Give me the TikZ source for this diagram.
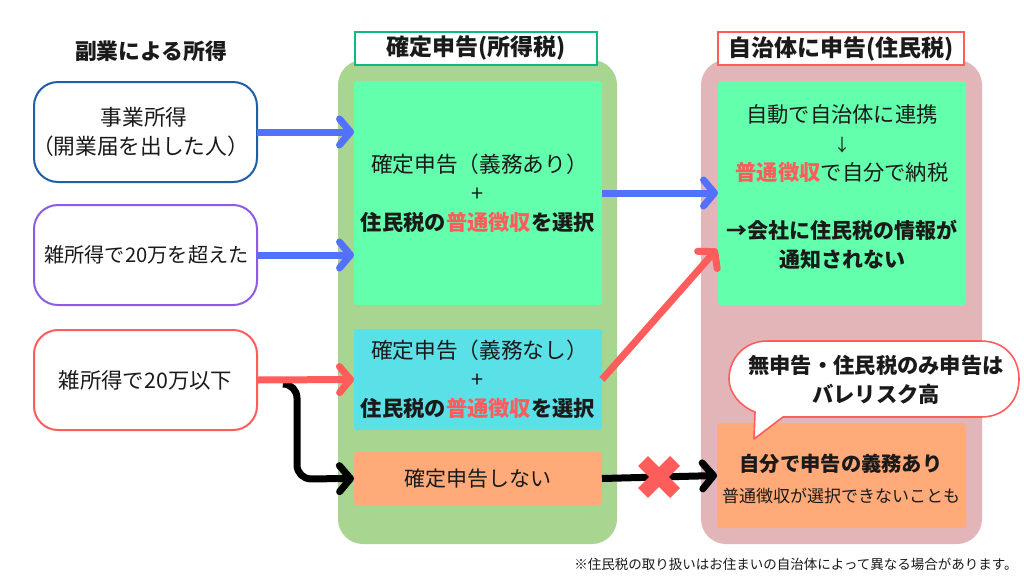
\documentclass[tikz,border=0pt]{standalone}
\usepackage{fontspec}
\setmainfont{Noto Sans CJK JP}
\usetikzlibrary{arrows.meta}
\definecolor{txt}{HTML}{1A1A1A}
\definecolor{redc}{HTML}{FF5C5C}
\definecolor{bluec}{HTML}{5271FF}
\definecolor{navyc}{HTML}{1F5EA8}
\definecolor{purc}{HTML}{8C5CE6}
\definecolor{greenp}{HTML}{A8D58F}
\definecolor{pinkp}{HTML}{E2B6B8}
\definecolor{mint}{HTML}{63FFAC}
\definecolor{cyanb}{HTML}{5AE1E8}
\definecolor{orangeb}{HTML}{FFAA78}
\definecolor{tgreen}{HTML}{10B981}
\newcommand{\rd}[1]{\textcolor{redc}{#1}}
\newcommand{\fs}[1]{\fontsize{#1}{29}\selectfont}
\tikzset{
  base/.style={anchor=north west,inner sep=0pt,outer sep=0pt,align=center,text=txt,font=\fs{21.7}},
  panel/.style={base,rounded corners=25pt,minimum width=#1,minimum height=484pt},
  srcbox/.style={base,draw,fill=white,line width=2pt,rounded corners=24pt,minimum width=223pt,minimum height=100pt},
  titlebox/.style={base,draw,fill=white,line width=1.8pt,minimum height=33pt,font=\fs{23}\bfseries},
  flat/.style={base,rounded corners=3pt},
  label/.style={anchor=center,inner sep=0pt,align=center,text=txt,font=\fs{21.3}},
  conn/.style={line width=7pt,-{Straight Barb[length=11pt,width=26pt,line cap=round,line join=round]}},
}
\begin{document}
\begin{tikzpicture}[x=1pt,y=-1pt]
\useasboundingbox (0,0) rectangle (1024,576);
\fill[white] (0,0) rectangle (1024,576);
% panels
\node[panel=279pt,fill=greenp] (pg) at (338,60) {};
\node[panel=281pt,fill=pinkp] (pp) at (701,60) {};
% titles
\node[label,font=\fs{21.8}\bfseries] (head) at (151,51) {副業による所得};
\node[titlebox,draw=tgreen,minimum width=242pt] (t1) at (355,32) {確定申告(所得税)};
\node[titlebox,draw=redc,minimum width=246pt] (t2) at (718,32) {自治体に申告(住民税)};
% sources
\node[srcbox,draw=navyc,font=\fs{21.7}] (s1) at (34,82) {\mbox{\kern-3pt 事業所得}\\\mbox{\kern-10pt （開業届を出した人）}};
\node[srcbox,draw=purc,font=\fs{20.2}] (s2) at (34,205) {\mbox{\kern2pt 雑所得で20万を超えた}};
\node[srcbox,draw=redc,font=\fs{21.4}] (s3) at (34,330) {雑所得で20万以下};
% middle
\node[flat,fill=mint,minimum width=248pt,minimum height=224pt] (g1) at (354,81) {\mbox{確定申告（義務あり）\kern-3pt}\\+\\{\fs{21.3}\textbf{住民税の\rd{普通徴収}を選択}}};
\node[flat,fill=cyanb,minimum width=248pt,minimum height=101pt] (c1) at (354,329) {\mbox{確定申告（義務なし）\kern-3pt}\\+\\{\fs{21.3}\textbf{住民税の\rd{普通徴収}を選択}}};
\node[flat,fill=orangeb,minimum width=248pt,minimum height=53pt,font=\fs{21}] (o1) at (354,452) {確定申告しない};
% right
\node[flat,fill=mint,minimum width=248pt,minimum height=224pt] (g2) at (718,81) {};
\node[label] (g2t) at (842,186.5) {自動で自治体に連携\\{\fs{17}↓}\\\textbf{\rd{普通徴収}}で自分で納税\\[29pt]{\fs{21}\textbf{→会社に住民税の情報が}}\\{\fs{21}\textbf{通知されない}}};
\node[flat,fill=orangeb,minimum width=249pt,minimum height=105pt] (o2) at (717,423) {};
\node[label,font=\fs{20.3}\bfseries] (o2a) at (841,464) {自分で申告の義務あり};
\node[label,font=\fs{17}] (o2b) at (841,496) {普通徴収が選択できないことも};
% connectors
\coordinate (split) at (287,384);
\coordinate (rtarget) at (717,249);
\draw[conn,black,rounded corners=14pt] (split) -- (297,384) -- (297,479) -- (o1.west);
\draw[conn,bluec] (s1.east) -- (g1.west |- s1.east);
\draw[conn,bluec] (s2.east) -- (g1.west |- s2.east);
\draw[conn,redc] (s3.east) -- (c1.west);
\draw[conn,bluec] (g1.east) -- (g2.west);
\draw[conn,redc] (c1.east) -- (rtarget);
\draw[conn,black] (o1.east) -- (o2.west);
% cross
\draw[redc,line width=14pt] (643,461) -- (675,493) (643,493) -- (675,461);
% callout
\draw[redc,line width=1.6pt,fill=white,line join=round] (754,439) -- (783,417) -- (981,417)
  .. controls (1005,417) and (1019,400) .. (1019,379)
  .. controls (1019,358) and (1005,341) .. (981,341) -- (767,341)
  .. controls (745,341) and (729,358) .. (729,379)
  .. controls (729,393) and (740,406) .. (755,412) -- cycle;
\node[label,font=\fs{21.3}\bfseries] (call) at (876,379.5) {無申告・住民税のみ申告は\\バレリスク高};
% note
\node[label,font=\fontsize{13.5}{16}\selectfont] (note) at (796,564) {※住民税の取り扱いはお住まいの自治体によって異なる場合があります。};
\end{tikzpicture}
\end{document}
